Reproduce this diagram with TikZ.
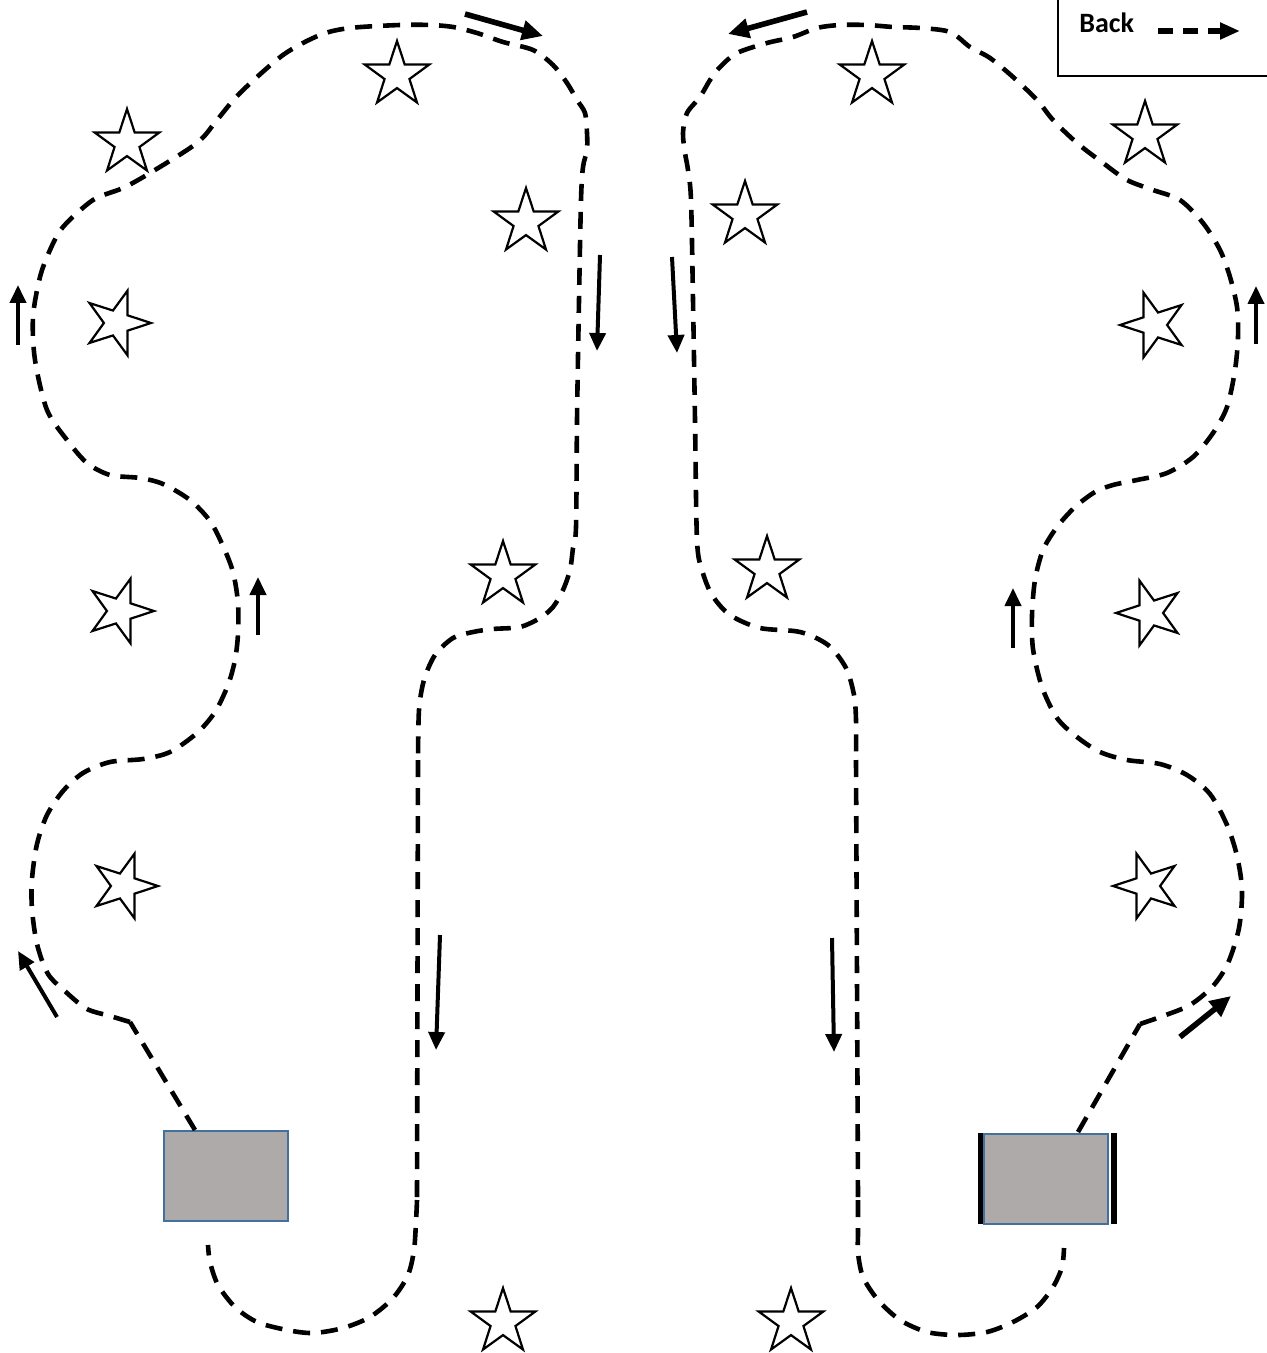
\documentclass[tikz,border=0pt]{standalone}
\usepackage{fontspec}
\setsansfont{Carlito}
\usetikzlibrary{shapes.geometric,arrows.meta}
\definecolor{boxgray}{HTML}{AEAAAA}
\definecolor{boxblue}{HTML}{41719C}
\begin{document}
\begin{tikzpicture}[x=0.5pt,y=-0.5pt,
  route/.style={line width=2.3pt, dash pattern=on 8.5pt off 5.5pt},
  dirarrow/.style={line width=2pt, -{Triangle[length=9pt,width=8pt]}},
  bigarrow/.style={line width=2.8pt, -{Triangle[length=10.5pt,width=9.5pt]}},
  startbox/.style={draw=boxblue, fill=boxgray, line width=1pt, minimum width=62pt, minimum height=45pt, inner sep=0pt},
  upstar/.style={star, star points=5, star point ratio=2.6, draw, line width=1.1pt, minimum size=34pt, inner sep=0pt},
  rightstar/.style={upstar, shape border rotate=-90},
  leftstar/.style={upstar, shape border rotate=90},
  legendtext/.style={font=\sffamily\bfseries\fontsize{14pt}{16pt}\selectfont, inner sep=0pt, anchor=base west}
]
\useasboundingbox (0,0) rectangle (1267,1353);

% legend
\draw[line width=0.8pt] (1058,-5) -- (1058,76) -- (1275,76);
\node[legendtext] (legend) at (1079,33) {Back};
\draw[line width=3pt, dash pattern=on 7.5pt off 5pt, -{Triangle[length=10pt,width=8pt]}] (1158,31) -- (1240,31);

% start boxes
\node[startbox] (boxL) at (226,1176) {};
\fill (978,1133) rectangle (984,1224);
\fill (1111,1133) rectangle (1117,1224);
\node[startbox] (boxR) at (1046,1178.5) {};

% stars left half
\node[upstar] (s1) at (397,75) {};
\node[upstar] (s2) at (127,143) {};
\node[upstar] (s3) at (526,222) {};
\node[rightstar] (s4) at (117,323) {};
\node[rightstar] (s5) at (120,611) {};
\node[upstar] (s6) at (503,575) {};
\node[rightstar] (s7) at (124,886) {};
\node[upstar] (s8) at (503,1322) {};
% stars right half
\node[upstar] (s9) at (872,75) {};
\node[upstar] (s10) at (1145,135) {};
\node[upstar] (s11) at (745,215) {};
\node[leftstar] (s12) at (1154,325) {};
\node[leftstar] (s13) at (1150,613) {};
\node[upstar] (s14) at (767,570) {};
\node[leftstar] (s15) at (1147,886) {};
\node[upstar] (s16) at (791,1322) {};

% left route
\draw[route] (195,1130) -- (130,1022);
\draw[route] plot[smooth, tension=0.5] coordinates {
 (130,1022) (110,1016) (87,1009) (67,993) (48,974) (37,944) (32,909) (32,879)
 (37,844) (47,815) (63,791) (83,773) (110,762) (143,759) (170,752) (197,733)
 (215,712) (228,685) (235,660) (238,634) (238,603) (233,572) (223,546) (210,521)
 (190,500) (163,484) (140,478) (110,475) (87,463) (67,440) (47,410) (35,360)
 (33,317) (40,277) (50,250) (63,227) (93,200) (123,188) (150,173) (197,143)
 (217,120) (240,93) (283,55) (320,35) (350,28) (400,25) (430,25) (453,27)
 (477,33) (503,42) (533,50) (553,65) (567,83) (577,100) (585,113) (587,133)
 (587,150) (583,167) (581,200) (579,300) (577,420) (576,527) (573,548) (570,570)
 (563,590) (553,607) (540,618) (520,627) (493,629) (473,632) (453,638) (435,655)
 (424,680) (419,710) (418,760)};
\draw[route] (418,760) -- (417,1200);
\draw[route] plot[smooth, tension=0.5] coordinates {
 (417,1200) (416,1222) (414,1250) (408,1275) (393,1298) (370,1317) (343,1328)
 (313,1333) (287,1330) (257,1322) (235,1307) (218,1285) (210,1262) (208,1245)};

% right route
\draw[route] (1078,1132) -- (1140,1024);
\draw[route] plot[smooth, tension=0.5] coordinates {
 (1140,1024) (1163,1016) (1190,1005) (1213,986) (1228,963) (1239,928) (1242,890)
 (1237,856) (1227,825) (1210,794) (1187,775) (1160,764) (1127,760) (1100,752)
 (1077,737) (1057,718) (1042,687) (1033,649) (1032,615) (1035,580) (1043,550)
 (1057,527) (1075,507) (1095,492) (1113,485) (1137,480) (1167,473) (1193,457)
 (1213,433) (1227,407) (1235,370) (1238,337) (1237,307) (1230,277) (1220,250)
 (1203,223) (1180,200) (1153,190) (1127,180) (1103,163) (1077,143) (1053,120)
 (1037,100) (1013,77) (990,58) (970,47) (950,32) (920,28) (893,27) (867,25)
 (840,25) (817,28) (793,37) (767,43) (737,53) (720,67) (710,80) (700,97)
 (687,113) (683,133) (685,153) (688,170) (691,200) (693,300) (695,420) (697,540)
 (702,570) (712,595) (730,615) (760,628) (800,632) (828,645) (846,668) (854,695)
 (856,720) (856,760)};
\draw[route] (856,760) -- (858,1200);
\draw[route] plot[smooth, tension=0.5] coordinates {
 (858,1200) (858,1233) (858,1253) (863,1277) (878,1300) (900,1320) (927,1332)
 (957,1335) (987,1332) (1013,1322) (1037,1307) (1053,1287) (1062,1267) (1064,1248)};

% direction arrows left
\draw[bigarrow] (465,14) -- (543,36);
\draw[dirarrow] (600,255) -- (597,351);
\draw[dirarrow] (18,345) -- (18,285);
\draw[dirarrow] (258,635) -- (258,577);
\draw[dirarrow] (57,1017) -- (18,951);
\draw[dirarrow] (440,935) -- (436,1050);
% direction arrows right
\draw[bigarrow] (807,12) -- (728,34);
\draw[dirarrow] (672,257) -- (677,353);
\draw[dirarrow] (1256,344) -- (1256,286);
\draw[dirarrow] (1013,648) -- (1013,588);
\draw[bigarrow] (1180,1037) -- (1231,996);
\draw[dirarrow] (832,938) -- (834,1052);
\end{tikzpicture}
\end{document}
